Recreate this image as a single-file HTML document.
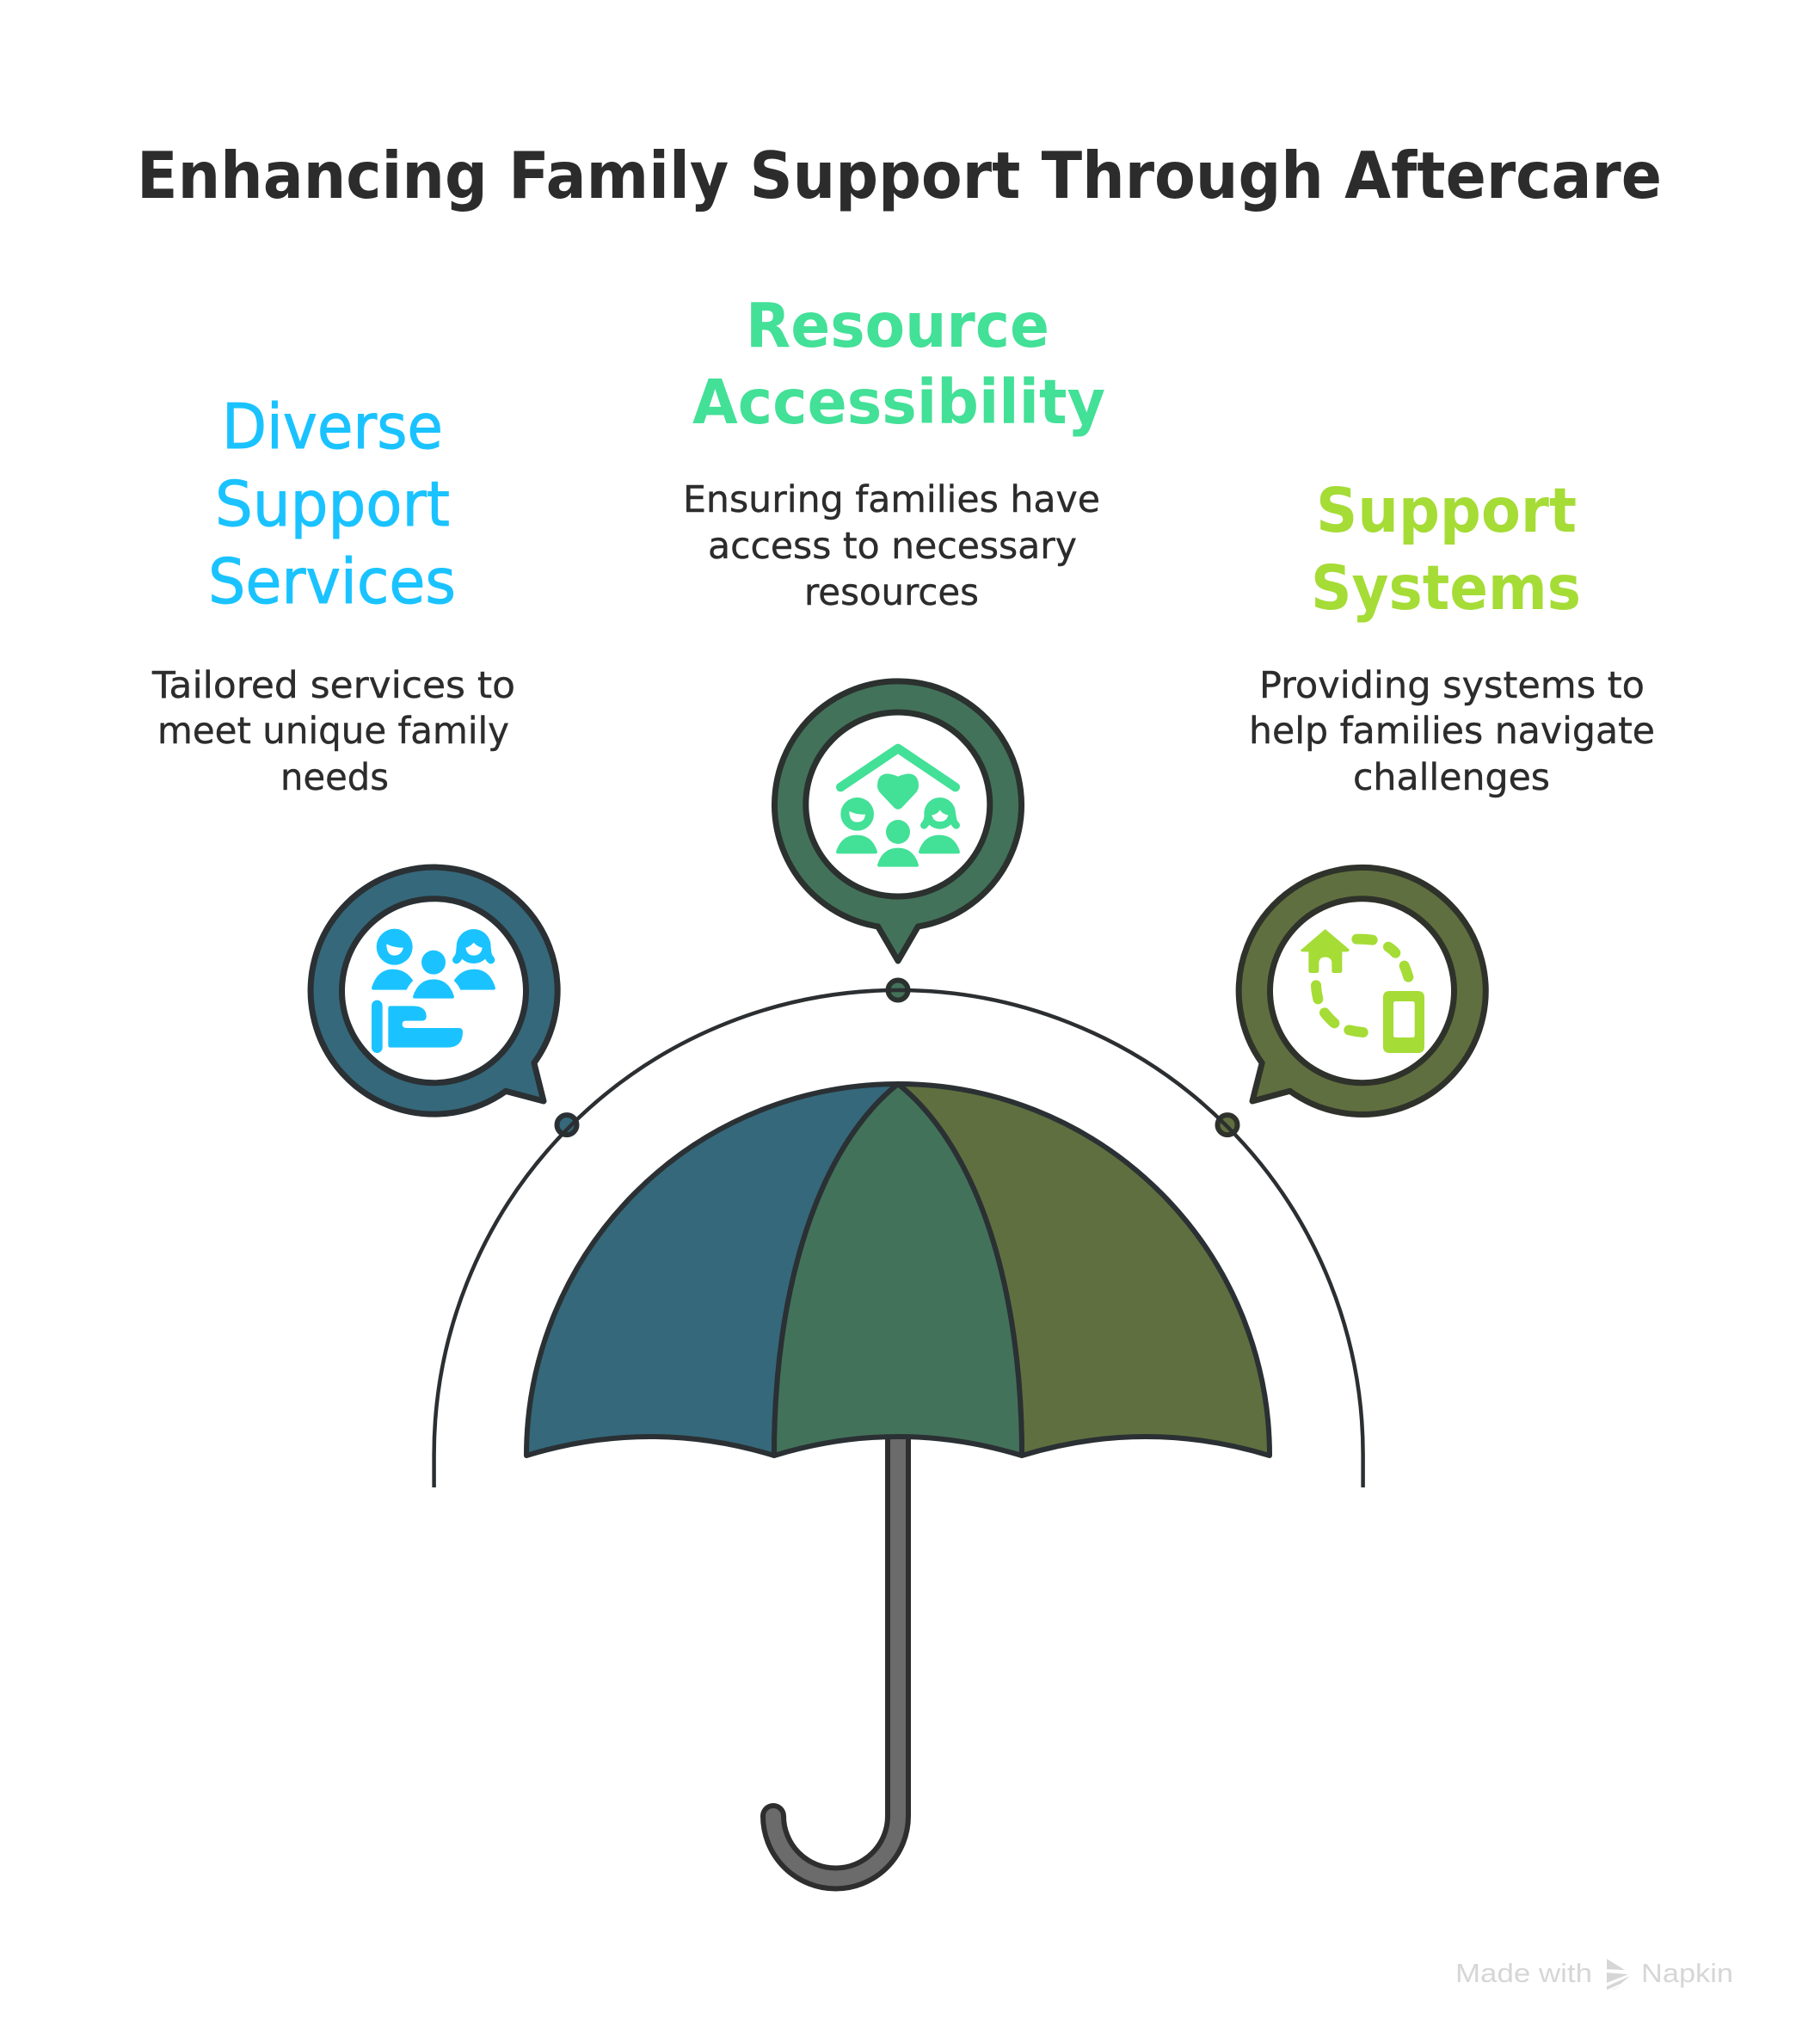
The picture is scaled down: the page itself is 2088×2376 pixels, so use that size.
<!DOCTYPE html>
<html><head><meta charset="utf-8"><style>
html,body{margin:0;padding:0;background:#fff;width:2088px;height:2376px;overflow:hidden}
svg{display:block}
text{font-family:"DejaVu Sans","Liberation Sans",sans-serif}
.b{font-size:43px;fill:#2c2c2c;stroke:#2c2c2c;stroke-width:.4;font-family:"DejaVu Sans",sans-serif}
.h{font-size:71px;font-weight:700}
.w{font-family:"Liberation Sans",sans-serif;font-size:31px;fill:#d6d6d6}
</style></head><body>
<svg width="2088" height="2376" viewBox="0 0 2088 2376" xmlns="http://www.w3.org/2000/svg">
<rect width="2088" height="2376" fill="#fff"/>

<text x="159" y="230" font-size="75" font-weight="700" fill="#2c2c2c" textLength="1773" lengthAdjust="spacingAndGlyphs">Enhancing Family Support Through Aftercare</text>

<g fill="#1ac3ff" stroke="#1ac3ff" stroke-width="1" font-size="72">
<text x="258" y="521" textLength="257" lengthAdjust="spacingAndGlyphs">Diverse</text>
<text x="250" y="611" textLength="273" lengthAdjust="spacingAndGlyphs">Support</text>
<text x="242" y="701" textLength="288" lengthAdjust="spacingAndGlyphs">Services</text>
</g>
<g fill="#43e097">
<text class="h" x="867" y="403" textLength="353" lengthAdjust="spacingAndGlyphs">Resource</text>
<text class="h" x="805" y="492" textLength="480" lengthAdjust="spacingAndGlyphs">Accessibility</text>
</g>
<g fill="#a5dc36">
<text class="h" x="1530" y="618" textLength="303" lengthAdjust="spacingAndGlyphs">Support</text>
<text class="h" x="1524" y="708" textLength="314" lengthAdjust="spacingAndGlyphs">Systems</text>
</g>

<text class="b" x="177" y="811" textLength="422" lengthAdjust="spacingAndGlyphs">Tailored services to</text>
<text class="b" x="183" y="864" textLength="409" lengthAdjust="spacingAndGlyphs">meet unique family</text>
<text class="b" x="326" y="918" textLength="126" lengthAdjust="spacingAndGlyphs">needs</text>
<text class="b" x="794" y="595" textLength="485" lengthAdjust="spacingAndGlyphs">Ensuring families have</text>
<text class="b" x="823" y="649" textLength="429" lengthAdjust="spacingAndGlyphs">access to necessary</text>
<text class="b" x="935" y="703" textLength="203" lengthAdjust="spacingAndGlyphs">resources</text>
<text class="b" x="1464" y="811" textLength="448" lengthAdjust="spacingAndGlyphs">Providing systems to</text>
<text class="b" x="1452" y="864" textLength="472" lengthAdjust="spacingAndGlyphs">help families navigate</text>
<text class="b" x="1573" y="918" textLength="229" lengthAdjust="spacingAndGlyphs">challenges</text>

<!-- outer arc -->
<circle cx="659" cy="1307.6" r="11.5" fill="#35687a" stroke="#2a3033" stroke-width="6"/>
<circle cx="1044" cy="1151" r="11.5" fill="#43725a" stroke="#2b312e" stroke-width="6"/>
<circle cx="1427" cy="1307.6" r="11.5" fill="#606f3f" stroke="#2f322b" stroke-width="6"/>
<path d="M504.6 1729V1691A540 540 0 0 1 1584.6 1691V1729" fill="none" stroke="#2c2f31" stroke-width="4.5"/>

<!-- handle -->
<path d="M1044 1670V2111A72.5 72.5 0 0 1 899 2111" fill="none" stroke="#2e2e2e" stroke-width="30" stroke-linecap="round"/>
<path d="M1044 1670V2111A72.5 72.5 0 0 1 899 2111" fill="none" stroke="#6b6b6b" stroke-width="18" stroke-linecap="round"/>

<!-- canopy -->
<g stroke="#2a3033" stroke-width="6" stroke-linejoin="round">
<path d="M1044 1260A432 432 0 0 0 612 1692Q756 1648 900 1692C900 1500 950 1335 1044 1260Z" fill="#35687a"/>
<path d="M1044 1260A432 432 0 0 1 1476 1692Q1332 1648 1188 1692C1188 1500 1138 1335 1044 1260Z" fill="#606f3f"/>
<path d="M1044 1260C950 1335 900 1500 900 1692Q1044 1648 1188 1692C1188 1500 1138 1335 1044 1260Z" fill="#43725a"/>
</g>

<!-- bubbles -->
<g stroke="#2a3033" stroke-width="7" stroke-linejoin="round">
<path d="M620.9 1235.7A143.5 143.5 0 1 0 588 1268.4L632 1280Z" fill="#35687a"/>
<circle cx="504.5" cy="1151.7" r="107" fill="#fff"/>
</g>
<g stroke="#2b312e" stroke-width="7" stroke-linejoin="round">
<path d="M1067.3 1077A143.5 143.5 0 1 0 1020.7 1077L1044 1117Z" fill="#43725a"/>
<circle cx="1043.8" cy="935" r="107" fill="#fff"/>
</g>
<g stroke="#2f322b" stroke-width="7" stroke-linejoin="round">
<path d="M1499.6 1268.2A143.5 143.5 0 1 0 1467.2 1235.7L1456 1280Z" fill="#606f3f"/>
<circle cx="1583.5" cy="1151.7" r="107" fill="#fff"/>
</g>

<!-- icon 1 -->
<g transform="translate(320 960) scale(.33333)" fill="#1ac3ff">
<circle cx="416" cy="422" r="63"/>
<path d="M388 412Q415 425 447 425Q440 452 416 452Q388 452 388 412Z" fill="#fff"/>
<circle cx="552" cy="476" r="42"/>
<path d="M480 595Q500 535 552 535Q605 535 624 595Q624 602 616 602H488Q480 602 480 595Z"/>
<path d="M336 565Q356 500 410 500Q455 500 481 540Q465 555 458 572H345Q336 572 336 565Z"/>
<path d="M768 565Q748 500 694 500Q649 500 623 540Q639 555 646 572H759Q768 572 768 565Z"/>
<circle cx="692" cy="420" r="60"/>
<path d="M645 430Q645 455 632 467M739 430Q739 455 752 467" fill="none" stroke="#1ac3ff" stroke-width="28" stroke-linecap="round"/>
<path d="M664 425Q680 422 692 407Q705 422 722 425Q718 452 692 452Q668 452 664 425Z" fill="#fff"/>
<rect x="336" y="608" width="38" height="184" rx="19"/>
<path d="M394 636Q394 628 402 628H480Q527 628 527 665Q527 680 510 680H455Q443 680 443 692Q443 705 458 705H640Q654 705 654 718Q654 773 600 773H402Q394 773 394 765Z"/>
</g>

<!-- icon 2 -->
<g transform="translate(860 760) scale(.33333)" fill="#43e097">
<path d="M352 465L552 330L752 465" fill="none" stroke="#43e097" stroke-width="32" stroke-linecap="round" stroke-linejoin="round"/>
<path d="M552 428Q575 418 590 418Q624 420 624 460Q624 475 612 487L565 537Q552 548 539 537L492 487Q480 475 480 460Q480 420 514 418Q530 418 552 428Z"/>
<circle cx="410" cy="559" r="58"/>
<path d="M382 549Q408 562 438 560Q436 587 410 587Q382 587 382 549Z" fill="#fff"/>
<circle cx="552" cy="621" r="42"/>
<path d="M480 736Q498 677 552 677Q606 677 624 736Q624 743 616 743H488Q480 743 480 736Z"/>
<path d="M336 690Q354 632 408 632Q462 632 480 690Q480 697 472 697H344Q336 697 336 690Z"/>
<path d="M624 690Q642 632 696 632Q750 632 768 690Q768 697 760 697H632Q624 697 624 690Z"/>
<circle cx="698" cy="556" r="55"/>
<path d="M656 565Q656 585 643 598M742 565Q742 585 755 598" fill="none" stroke="#43e097" stroke-width="26" stroke-linecap="round"/>
<path d="M670 562Q690 560 698 544Q708 560 727 562Q722 585 698 585Q675 585 670 562Z" fill="#fff"/>
</g>

<!-- icon 3 -->
<g transform="translate(1400 970) scale(.33333)" fill="#a5dc36">
<path d="M422 330L505 400Q508 409 498 409H481V475Q481 483 473 483H452Q445 483 445 475V450Q445 428 422 428Q400 428 400 450V475Q400 483 392 483H372Q364 483 364 475V409H345Q333 409 338 402Z"/>
<path fill-rule="evenodd" d="M646 546H746Q768 546 768 568V740Q768 762 746 762H646Q624 762 624 740V568Q624 546 646 546ZM668 582Q660 582 660 590V700Q660 708 668 708H726Q734 708 734 700V590Q734 582 726 582Z"/>
<g fill="none" stroke="#a5dc36" stroke-width="36" stroke-linecap="round">
<path d="M532 365Q560 364 587 368"/>
<path d="M642 392Q655 400 667 413"/>
<path d="M698 458Q706 477 712 497"/>
<path d="M390 526Q391 550 397 574"/>
<path d="M420 622Q435 642 454 658"/>
<path d="M505 682Q530 688 554 690"/>
</g>
</g>

<!-- watermark -->
<text class="w" x="1692" y="2304" textLength="159" lengthAdjust="spacingAndGlyphs">Made with</text>
<text class="w" x="1908" y="2304" textLength="107" lengthAdjust="spacingAndGlyphs">Napkin</text>
<g fill="#d6d6d6">
<path d="M1868 2277L1889 2290L1868 2289Z"/>
<path d="M1868 2293L1893 2295L1868 2305Z"/>
<path d="M1895 2297L1868 2309V2313L1884 2306Z"/>
<path d="M1887 2306L1875 2313L1876 2313Z"/>
</g>
</svg>
</body></html>
